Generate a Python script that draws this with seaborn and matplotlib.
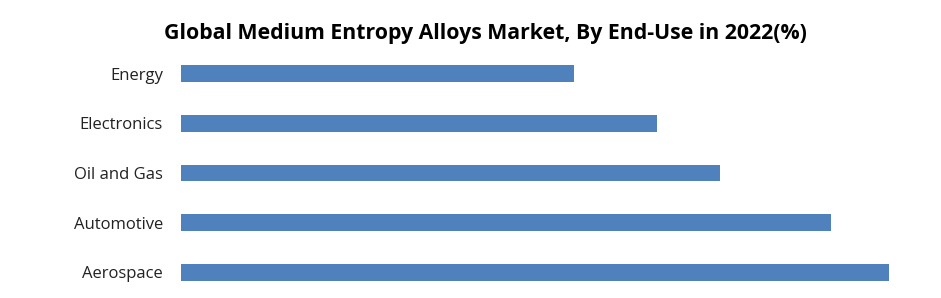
import matplotlib
matplotlib.use("Agg")
import matplotlib.pyplot as plt
import seaborn as sns
import pandas as pd

categories = ["Energy", "Electronics", "Oil and Gas", "Automotive", "Aerospace"]
values = [14.2, 17.2, 19.5, 23.5, 25.6]
title = "Global Medium Entropy Alloys Market, By End-Use in 2022(%)"

df = pd.DataFrame({"category": categories, "value": values})

sns.set_theme(style="white")
plt.rcParams["font.family"] = ["Open Sans", "DejaVu Sans"]

W, H = 941, 298
fig = plt.figure(figsize=(W / 100, H / 100), dpi=100)
# axes: x from 181 to 889 px, y from 49 to 297 px
ax = fig.add_axes([181 / W, 1 - 297 / H, (889 - 181) / W, (297 - 49) / H])

sns.barplot(data=df, y="category", x="value", orient="h", color="#4F81BD",
            saturation=1, width=0.34, linewidth=0, ax=ax)

ax.set_xlim(0, 25.6)
ax.set_ylim(4.5, -0.5)
ax.set_xlabel("")
ax.set_ylabel("")
ax.set_xticks([])
for s in ax.spines.values():
    s.set_visible(False)
ax.tick_params(axis="y", length=0, pad=13, labelsize=12, labelcolor="#222222")

fig.text(485 / W, 1 - 33 / H, title, ha="center", va="center",
         fontsize=15.3, fontweight="bold", color="black")

fig.savefig("out.png", dpi=100)
